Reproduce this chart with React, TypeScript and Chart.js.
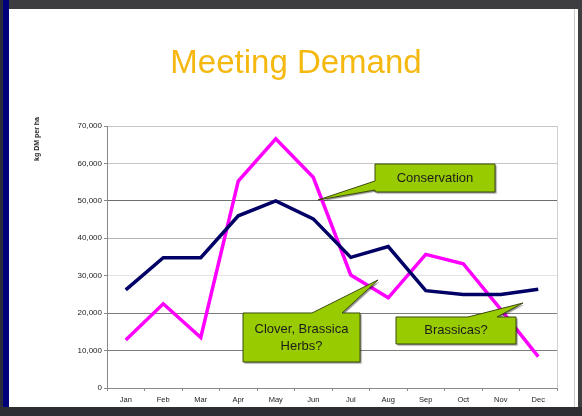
import React, { useEffect, useRef } from "react";
import { Chart, registerables } from "chart.js";

Chart.register(...registerables);

const months = ["Jan", "Feb", "Mar", "Apr", "May", "Jun", "Jul", "Aug", "Sep", "Oct", "Nov", "Dec"];
const supply = [26200, 34800, 34800, 46000, 50000, 45200, 34900, 37800, 26000, 25000, 25000, 26400];
const demand = [12800, 22500, 13500, 55300, 66600, 56300, 30200, 24100, 35700, 33200, 21000, 8400];
const yTicks = [0, 10000, 20000, 30000, 40000, 50000, 60000, 70000];

const titleText = "Meeting Demand";
const yTitle = "kg DM per ha";

// callouts: polygon points in (category index, value) units, label lines
const callouts = [
  {
    lines: ["Conservation"],
    box: [6.647, 9.847, 59850, 52370],
    poly: [[6.647, 59850], [9.847, 59850], [9.847, 52370], [6.647, 52370], [6.647, 52900], [5.127, 50230], [6.647, 55310]],
  },
  {
    lines: ["Clover, Brassica", "Herbs?"],
    box: [3.127, 6.247, 20040, 6950],
    poly: [[3.127, 20040], [4.967, 20040], [6.727, 28860], [5.767, 20040], [6.247, 20040], [6.247, 6950], [3.127, 6950]],
  },
  {
    lines: ["Brassicas?"],
    box: [7.207, 10.407, 18970, 11760],
    poly: [[7.207, 18970], [9.127, 18970], [10.593, 22710], [9.9, 18970], [10.407, 18970], [10.407, 11760], [7.207, 11760]],
  },
];

const gridColor = (v: number) => {
  if (v === 50000) return "#6e6e6e";
  if (v === 20000 || v === 10000) return "#7c7c7c";
  if (v === 30000) return "#e4e4e4";
  if (v === 40000) return "#b4b4b4";
  return "#c6c6c6";
};

const framePlugin = {
  id: "frame",
  beforeDraw(chart: any) {
    const ctx = chart.ctx;
    const W = chart.width, H = chart.height;
    ctx.save();
    ctx.fillStyle = "#ffffff";
    ctx.fillRect(0, 0, W, H);
    // top band
    ctx.fillStyle = "#3e3e40";
    ctx.fillRect(0, 0, W, 9);
    // left band
    ctx.fillStyle = "#00007a";
    ctx.fillRect(0, 0, 9, H);
    ctx.fillStyle = "#2a2a3a";
    ctx.fillRect(0, 0, 3, H);
    // right edge
    ctx.fillStyle = "#c8c8c8";
    ctx.fillRect(574, 9, 1, H);
    ctx.fillStyle = "#3e3e40";
    ctx.fillRect(578, 0, 4, H);
    // bottom band
    ctx.fillStyle = "#2e2e32";
    ctx.fillRect(0, 407, W, H - 407);
    // title
    ctx.fillStyle = "#F4B80E";
    ctx.font = "33px Arial, 'Liberation Sans', sans-serif";
    ctx.textAlign = "center";
    ctx.textBaseline = "alphabetic";
    ctx.fillText(titleText, 296, 73);
    // y title
    ctx.translate(37, 139);
    ctx.rotate(-Math.PI / 2);
    ctx.fillStyle = "#222";
    ctx.font = "bold 7px Arial, 'Liberation Sans', sans-serif";
    ctx.textBaseline = "middle";
    ctx.fillText(yTitle, 0, 0);
    ctx.restore();
  },
  afterDraw(chart: any) {
    const ctx = chart.ctx;
    const a = chart.chartArea;
    ctx.save();
    ctx.strokeStyle = "#cfcfcf";
    ctx.lineWidth = 1;
    ctx.beginPath();
    ctx.moveTo(Math.round(a.right) + 0.5, a.top);
    ctx.lineTo(Math.round(a.right) + 0.5, a.bottom);
    ctx.stroke();
    const xs = chart.scales.x, ys = chart.scales.y;
    const px = (i: number) => xs.getPixelForValue(i);
    const py = (v: number) => ys.getPixelForValue(v);
    for (const c of callouts) {
      ctx.save();
      ctx.beginPath();
      c.poly.forEach((p, k) => {
        const X = px(p[0]), Y = py(p[1]);
        if (k === 0) ctx.moveTo(X, Y);
        else ctx.lineTo(X, Y);
      });
      ctx.closePath();
      ctx.shadowColor = "rgba(0,0,0,0.45)";
      ctx.shadowOffsetX = 1.5;
      ctx.shadowOffsetY = 1.5;
      ctx.shadowBlur = 1;
      ctx.fillStyle = "#99CC00";
      ctx.fill();
      ctx.shadowColor = "transparent";
      ctx.strokeStyle = "#3c4a10";
      ctx.lineWidth = 1;
      ctx.stroke();
      const cx = (px(c.box[0]) + px(c.box[1])) / 2;
      const cy = (py(c.box[2]) + py(c.box[3])) / 2;
      ctx.fillStyle = "#1c1c1c";
      ctx.font = "13px Arial, 'Liberation Sans', sans-serif";
      ctx.textAlign = "center";
      ctx.textBaseline = "middle";
      const lh = 17;
      c.lines.forEach((t, k) => {
        ctx.fillText(t, cx, cy + (k - (c.lines.length - 1) / 2) * lh);
      });
      ctx.restore();
    }
    ctx.restore();
  },
};

export default function App() {
  const ref = useRef<HTMLCanvasElement>(null);
  useEffect(() => {
    document.body.style.margin = "0";
    const chart = new Chart(ref.current as HTMLCanvasElement, {
      type: "line",
      data: {
        labels: months,
        datasets: [
          { label: "Supply", data: supply, borderColor: "#000066", borderWidth: 3.5, pointRadius: 0, tension: 0, fill: false },
          { label: "Demand", data: demand, borderColor: "#FF00FF", borderWidth: 3.5, pointRadius: 0, tension: 0, fill: false },
        ],
      },
      options: {
        responsive: false,
        animation: false,
        layout: { padding: { left: 10, right: 25, top: 126, bottom: 8 } },
        plugins: { legend: { display: false }, title: { display: false }, tooltip: { enabled: false } },
        scales: {
          x: {
            offset: true,
            grid: { offset: true, drawOnChartArea: false, drawTicks: true, tickLength: 3, color: "#888" },
            border: { color: "#8a8a8a" },
            ticks: { color: "#222", font: { size: 7.5, family: "Arial, 'Liberation Sans', sans-serif" }, padding: 4, maxRotation: 0, autoSkip: false },
            afterFit: (s: any) => { s.height = 20; },
          },
          y: {
            min: 0,
            max: 70000,
            afterBuildTicks: (s: any) => { s.ticks = yTicks.map((v) => ({ value: v })); },
            grid: {
              color: (c: any) => (c.tick ? gridColor(c.tick.value) : "#ccc"),
              tickColor: "#888",
              tickLength: 3,
            },
            border: { color: "#8a8a8a" },
            ticks: {
              color: "#222",
              padding: 2,
              font: { size: 8, family: "Arial, 'Liberation Sans', sans-serif" },
              callback: (v: any) => Number(v).toLocaleString("en-US"),
            },
            afterFit: (s: any) => { s.width = 97; },
          },
        },
      },
      plugins: [framePlugin],
    });
    return () => chart.destroy();
  }, []);
  return (
    <div style={{ position: "fixed", left: 0, top: 0, width: 582, height: 416 }}>
      <canvas ref={ref} width={582} height={416} style={{ width: 582, height: 416, display: "block" }} />
    </div>
  );
}
